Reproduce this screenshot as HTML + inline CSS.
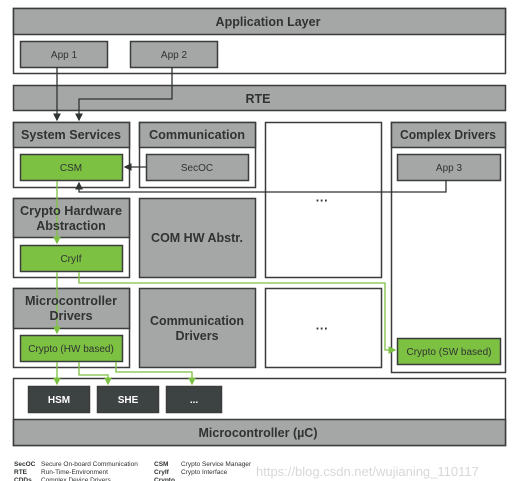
<!DOCTYPE html><html><head><style>body{margin:0;background:#fff}svg{display:block}text{font-family:"Liberation Sans",sans-serif;fill:#2f3332}</style></head><body>
<svg width="525" height="481" viewBox="0 0 525 481" xmlns="http://www.w3.org/2000/svg">
<defs><marker id="a" markerWidth="6" markerHeight="6" refX="5" refY="3" orient="auto"><path d="M0,0L6,3L0,6z" fill="#2f3332"/></marker>
<marker id="g" markerWidth="6" markerHeight="6" refX="5" refY="3" orient="auto"><path d="M0,0L6,3L0,6z" fill="#7dc142"/></marker></defs>
<g stroke="#3a3d3c" stroke-width="1.5">
<rect x="13.5" y="8.5" width="492" height="65" fill="#fff"/><rect x="13.5" y="8.5" width="492" height="26" fill="#a5a7a6"/>
<rect x="20.5" y="41.5" width="87" height="26" fill="#a5a7a6"/><rect x="130.5" y="41.5" width="87" height="26" fill="#a5a7a6"/>
<rect x="13.5" y="85.5" width="492" height="25" fill="#a5a7a6"/>
<rect x="13.5" y="122.5" width="116" height="65" fill="#fff"/><rect x="13.5" y="122.5" width="116" height="25" fill="#a5a7a6"/>
<rect x="20.5" y="154.5" width="102" height="26" fill="#7dc142"/>
<rect x="139.5" y="122.5" width="116" height="65" fill="#fff"/><rect x="139.5" y="122.5" width="116" height="25" fill="#a5a7a6"/>
<rect x="146.5" y="154.5" width="102" height="26" fill="#a5a7a6"/>
<rect x="265.5" y="122.5" width="116" height="155" fill="#fff"/>
<rect x="391.5" y="122.5" width="114" height="250" fill="#fff"/><rect x="391.5" y="122.5" width="114" height="25" fill="#a5a7a6"/>
<rect x="397.5" y="154.5" width="103" height="26" fill="#a5a7a6"/>
<rect x="13.5" y="198.5" width="116" height="79" fill="#fff"/><rect x="13.5" y="198.5" width="116" height="39" fill="#a5a7a6"/>
<rect x="20.5" y="245.5" width="102" height="26" fill="#7dc142"/>
<rect x="139.5" y="198.5" width="116" height="79" fill="#a5a7a6"/>
<rect x="13.5" y="288.5" width="116" height="79" fill="#fff"/><rect x="13.5" y="288.5" width="116" height="40" fill="#a5a7a6"/>
<rect x="20.5" y="335.5" width="102" height="26" fill="#7dc142"/>
<rect x="139.5" y="288.5" width="116" height="79" fill="#a5a7a6"/>
<rect x="265.5" y="288.5" width="116" height="79" fill="#fff"/>
<rect x="397.5" y="338.5" width="103" height="26" fill="#7dc142"/>
<rect x="13.5" y="378.5" width="492" height="67" fill="#fff"/><rect x="13.5" y="419.5" width="492" height="26" fill="#a5a7a6"/>
<rect x="28.5" y="386.5" width="61" height="26" fill="#3d4342"/><rect x="97.5" y="386.5" width="61" height="26" fill="#3d4342"/><rect x="166.5" y="386.5" width="55" height="26" fill="#3d4342"/>
</g>
<g fill="none" stroke="#2f3332" stroke-width="1.3">
<path d="M57,67V120" marker-end="url(#a)"/><path d="M172,67V99H79V120" marker-end="url(#a)"/>
<path d="M146,167H125" marker-end="url(#a)"/><path d="M446,180V192H79V183" marker-end="url(#a)"/>
</g>
<g fill="none" stroke="#7dc142" stroke-width="1.3">
<path d="M57,181V243" marker-end="url(#g)"/><path d="M57,272V333" marker-end="url(#g)"/>
<path d="M79,272V283H385V350H395" marker-end="url(#g)"/>
<path d="M57,362V384" marker-end="url(#g)"/><path d="M79,362V375H108V384" marker-end="url(#g)"/><path d="M116,362V372H192V384" marker-end="url(#g)"/>
</g>
<g font-weight="bold" text-anchor="middle" font-size="12.5">
<text x="268" y="26">Application Layer</text><text x="258" y="103">RTE</text>
<text x="71" y="139" textLength="100" lengthAdjust="spacingAndGlyphs">System Services</text><text x="197" y="139" textLength="96" lengthAdjust="spacingAndGlyphs">Communication</text><text x="448" y="139" textLength="96" lengthAdjust="spacingAndGlyphs">Complex Drivers</text>
<text x="71" y="215" textLength="102" lengthAdjust="spacingAndGlyphs">Crypto Hardware</text><text x="71" y="230">Abstraction</text>
<text x="197" y="242">COM HW Abstr.</text>
<text x="71" y="305" textLength="92" lengthAdjust="spacingAndGlyphs">Microcontroller</text><text x="71" y="320">Drivers</text>
<text x="197" y="325" textLength="94" lengthAdjust="spacingAndGlyphs">Communication</text><text x="197" y="340">Drivers</text>
<text x="258" y="437">Microcontroller (µC)</text>
<text x="322" y="205">···</text><text x="322" y="333">···</text>
</g>
<g text-anchor="middle" font-size="10">
<text x="64" y="58">App 1</text><text x="174" y="58">App 2</text>
<text x="71" y="171">CSM</text><text x="197" y="171">SecOC</text><text x="449" y="171">App 3</text>
<text x="71" y="262">CryIf</text><text x="71" y="352">Crypto (HW based)</text><text x="449" y="355">Crypto (SW based)</text>
<g font-weight="bold"><text x="59" y="403" style="fill:#fff">HSM</text><text x="128" y="403" style="fill:#fff">SHE</text><text x="194" y="403" style="fill:#fff">...</text></g>
</g>
<g font-size="6.5">
<text x="14" y="466" font-weight="bold">SecOC</text><text x="41" y="466">Secure On-board Communication</text>
<text x="14" y="474" font-weight="bold">RTE</text><text x="41" y="474">Run-Time-Environment</text>
<text x="14" y="482" font-weight="bold">CDDs</text><text x="41" y="482">Complex Device Drivers</text>
<text x="154" y="466" font-weight="bold">CSM</text><text x="181" y="466">Crypto Service Manager</text>
<text x="154" y="474" font-weight="bold">CryIf</text><text x="181" y="474">Crypto Interface</text>
<text x="154" y="482" font-weight="bold">Crypto</text>
</g>
<text x="256" y="476" font-size="13" style="fill:#d8d8d8">https://blog.csdn.net/wujianing_110117</text>
</svg></body></html>
